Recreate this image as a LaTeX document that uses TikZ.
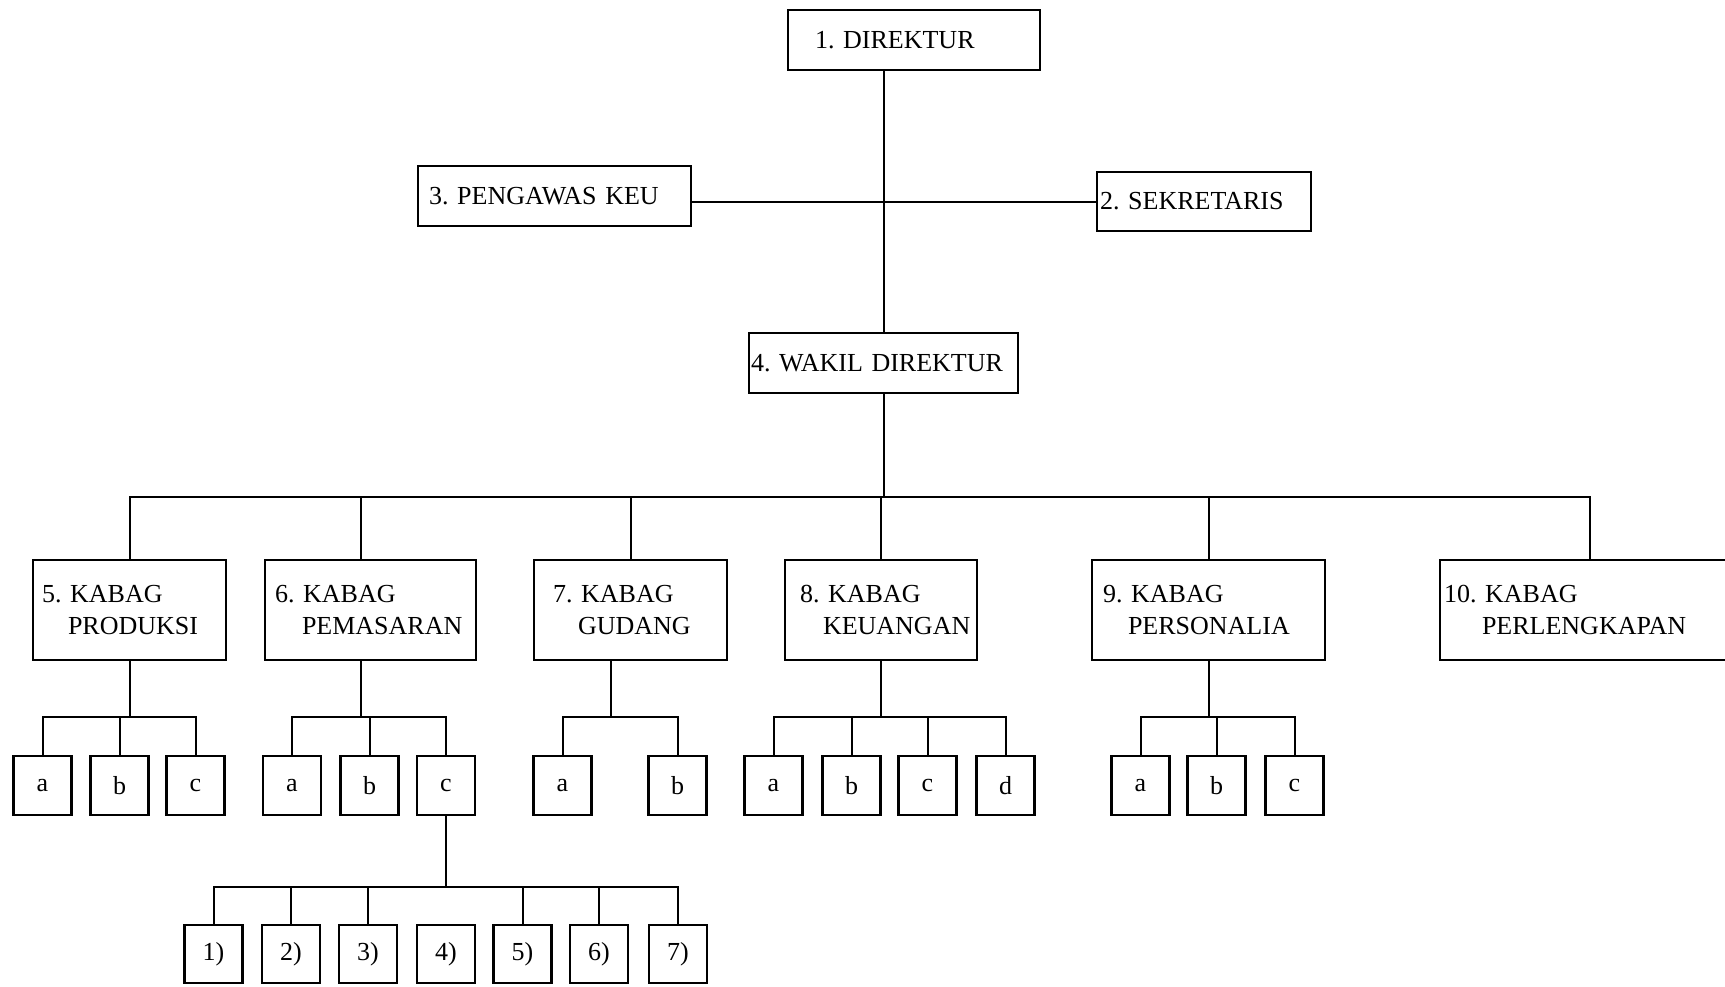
\documentclass[tikz,border=0pt]{standalone}
\usepackage{fontspec}
\setmainfont{Liberation Serif}
\frenchspacing
\newcommand{\indt}[1]{\hspace*{#1}}
\begin{document}
\begin{tikzpicture}[x=0.5pt,y=-0.5pt,
 unit/.style={draw,rectangle,line width=1.4pt,inner sep=0pt,text width=#1,align=left,font=\fontsize{13}{16}\selectfont},
 head/.style={unit=#1,minimum height=30pt},
 dept/.style={unit=#1,minimum height=50pt},
 leaf/.style={draw,rectangle,line width=1.4pt,inner sep=0pt,minimum width=29pt,minimum height=29.5pt,font=\fontsize{13}{16}\selectfont},
 link/.style={line width=1pt}]
 		\useasboundingbox (0,0) rectangle (1725,986);
 		% top
 		\node[head=126pt] (dir) at (914,40) {\indt{13.5pt}1. DIREKTUR};
 		\node[head=136.5pt] (peng) at (554.5,196) {\indt{5.5pt}3. PENGAWAS KEU};
 		\node[head=107pt,minimum height=29.5pt] (sek) at (1204,201.5) {\indt{1.5pt}2. SEKRETARIS};
 		\node[head=134.5pt] (wak) at (883.5,363) {\indt{1pt}4. WAKIL DIREKTUR};
 		
 		% kabag
 		\node[dept=96.5pt] (p5) at (129.5,610) {\indt{4.5pt}5. KABAG\\\indt{17.5pt}PRODUKSI};
 		\node[dept=105.5pt] (p6) at (370.5,610) {\indt{5pt}6. KABAG\\\indt{18.5pt}PEMASARAN};
 		\node[dept=96.5pt] (p7) at (630.5,610) {\indt{9.5pt}7. KABAG\\\indt{22pt}GUDANG};
 		\node[dept=96pt] (p8) at (881,610) {\indt{7.5pt}8. KABAG\\\indt{19pt}KEUANGAN};
 		\node[dept=116.5pt] (p9) at (1208.5,610) {\indt{5.5pt}9. KABAG\\\indt{18pt}PERSONALIA};
 		\node[dept=150pt] (p10) at (1590,610) {\indt{2pt}10. KABAG\\\indt{21pt}PERLENGKAPAN};
 		
 		% sub units
 		\node[leaf] (a5) at (42.5,785.5) {a};
 		\node[leaf] (b5) at (119.5,785.5) {b};
 		\node[leaf] (c5) at (195.5,785.5) {c};
 		\node[leaf] (a6) at (292,785.5) {a};
 		\node[leaf] (b6) at (369.5,785.5) {b};
 		\node[leaf] (c6) at (446,785.5) {c};
 		\node[leaf] (a7) at (562.5,785.5) {a};
 		\node[leaf] (b7) at (677.5,785.5) {b};
 		\node[leaf] (a8) at (773.5,785.5) {a};
 		\node[leaf] (b8) at (851.5,785.5) {b};
 		\node[leaf] (c8) at (927.5,785.5) {c};
 		\node[leaf] (d8) at (1005.5,785.5) {d};
 		\node[leaf] (a9) at (1140.5,785.5) {a};
 		\node[leaf] (b9) at (1216.5,785.5) {b};
 		\node[leaf] (c9) at (1294.5,785.5) {c};
 		
 		\node[leaf,minimum height=29pt] (q1) at (213.5,954) {1)};
 		\node[leaf,minimum height=29pt] (q2) at (291,954) {2)};
 		\node[leaf,minimum height=29pt] (q3) at (368,954) {3)};
 		\node[leaf,minimum height=29pt] (q4) at (446,954) {4)};
 		\node[leaf,minimum height=29pt] (q5) at (522.5,954) {5)};
 		\node[leaf,minimum height=29pt] (q6) at (599,954) {6)};
 		\node[leaf,minimum height=29pt] (q7) at (678,954) {7)};
 		
 		\coordinate (bus) at (883.5,497);
 		\coordinate (sb) at (0,717);
 		\coordinate (tb) at (0,887);
 		\coordinate (p6top) at ([xshift=-5pt]p6.north);
 		\coordinate (p6bot) at ([xshift=-5pt]p6.south);
 		\coordinate (p7bot) at ([xshift=-10pt]p7.south);
 		
 		\draw[link] (wak.north |- dir.south) -- (wak.north);
 		\draw[link] (sek.west -| peng.east) -- (sek.west);
 		\draw[link] (wak.south) -- (bus);
 		\draw[link] (p5.north) -- (p5.north |- bus) -- (p10.north |- bus) -- (p10.north);
 		\draw[link] (a5.north) -- (a5.north |- sb) -- (c5.north |- sb) -- (c5.north);
 		\draw[link] (a6.north) -- (a6.north |- sb) -- (c6.north |- sb) -- (c6.north);
 		\draw[link] (a7.north) -- (a7.north |- sb) -- (b7.north |- sb) -- (b7.north);
 		\draw[link] (a8.north) -- (a8.north |- sb) -- (d8.north |- sb) -- (d8.north);
 		\draw[link] (a9.north) -- (a9.north |- sb) -- (c9.north |- sb) -- (c9.north);
 		\draw[link] (q1.north) -- (q1.north |- tb) -- (q7.north |- tb) -- (q7.north);
 		
 		\path[link]
 		(p6top |- bus) edge (p6top)
 		(p7.north |- bus) edge (p7.north)
 		(p8.north |- bus) edge (p8.north)
 		(p9.north |- bus) edge (p9.north)
 		(p5.south) edge (p5.south |- sb)
 		(p6bot) edge (p6bot |- sb)
 		(p7bot) edge (p7bot |- sb)
 		(p8.south) edge (p8.south |- sb)
 		(p9.south) edge (p9.south |- sb)
 		(b5.north) edge (b5.north |- sb)
 		(b6.north) edge (b6.north |- sb)
 		(b8.north) edge (b8.north |- sb)
 		(c8.north) edge (c8.north |- sb)
 		(b9.north) edge (b9.north |- sb)
 		(c6.south) edge (c6.south |- tb)
 		(q2.north) edge (q2.north |- tb)
 		(q3.north) edge (q3.north |- tb)
 		(q5.north) edge (q5.north |- tb)
 		(q6.north) edge (q6.north |- tb)
 		;
\end{tikzpicture}
\end{document}
